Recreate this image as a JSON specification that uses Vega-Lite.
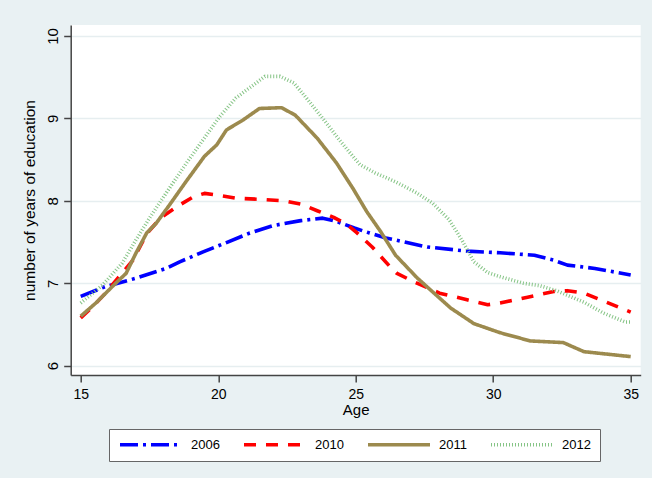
{
  "$schema": "https://vega.github.io/schema/vega-lite/v6.json",
  "autosize": {"type": "none"},
  "padding": {"left": 70.7, "top": 25, "right": 11.3, "bottom": 103},
  "width": 570,
  "height": 350,
  "background": "#E9F1F3",
  "config": {
    "view": {"fill": "white", "stroke": null},
    "font": "Liberation Sans"
  },
  "datasets": {
    "edu": [
      {"year": "2006", "age": 15, "years": 6.84},
      {"year": "2006", "age": 15.9, "years": 6.96},
      {"year": "2006", "age": 17.0, "years": 7.06},
      {"year": "2006", "age": 18.1, "years": 7.18},
      {"year": "2006", "age": 18.6, "years": 7.26},
      {"year": "2006", "age": 19.45, "years": 7.38},
      {"year": "2006", "age": 20.2, "years": 7.48},
      {"year": "2006", "age": 21.15, "years": 7.61},
      {"year": "2006", "age": 22.0, "years": 7.70},
      {"year": "2006", "age": 23.0, "years": 7.76},
      {"year": "2006", "age": 23.8, "years": 7.79},
      {"year": "2006", "age": 24.3, "years": 7.75},
      {"year": "2006", "age": 24.95, "years": 7.67},
      {"year": "2006", "age": 25.5, "years": 7.61},
      {"year": "2006", "age": 26.1, "years": 7.55},
      {"year": "2006", "age": 27.6, "years": 7.44},
      {"year": "2006", "age": 29.05, "years": 7.39},
      {"year": "2006", "age": 30.25, "years": 7.37},
      {"year": "2006", "age": 31.5, "years": 7.34},
      {"year": "2006", "age": 32.2, "years": 7.28},
      {"year": "2006", "age": 32.7, "years": 7.22},
      {"year": "2006", "age": 33.7, "years": 7.18},
      {"year": "2006", "age": 35, "years": 7.10},
      {"year": "2010", "age": 15, "years": 6.58},
      {"year": "2010", "age": 15.45, "years": 6.72},
      {"year": "2010", "age": 15.9, "years": 6.88},
      {"year": "2010", "age": 16.4, "years": 7.08},
      {"year": "2010", "age": 16.9, "years": 7.28},
      {"year": "2010", "age": 17.4, "years": 7.60},
      {"year": "2010", "age": 17.9, "years": 7.79},
      {"year": "2010", "age": 18.5, "years": 7.93},
      {"year": "2010", "age": 19.1, "years": 8.05},
      {"year": "2010", "age": 19.5, "years": 8.09},
      {"year": "2010", "age": 19.95, "years": 8.07},
      {"year": "2010", "age": 20.7, "years": 8.03},
      {"year": "2010", "age": 21.4, "years": 8.02},
      {"year": "2010", "age": 22.4, "years": 8.00},
      {"year": "2010", "age": 23.0, "years": 7.96},
      {"year": "2010", "age": 23.6, "years": 7.88},
      {"year": "2010", "age": 24.2, "years": 7.80},
      {"year": "2010", "age": 24.7, "years": 7.71},
      {"year": "2010", "age": 25.05, "years": 7.61},
      {"year": "2010", "age": 25.6, "years": 7.44},
      {"year": "2010", "age": 26.25, "years": 7.20},
      {"year": "2010", "age": 26.5, "years": 7.12},
      {"year": "2010", "age": 27.1, "years": 7.02},
      {"year": "2010", "age": 28.05, "years": 6.88},
      {"year": "2010", "age": 29.05, "years": 6.80},
      {"year": "2010", "age": 29.8, "years": 6.74},
      {"year": "2010", "age": 30.25, "years": 6.76},
      {"year": "2010", "age": 31.25, "years": 6.83},
      {"year": "2010", "age": 32.2, "years": 6.90},
      {"year": "2010", "age": 32.7, "years": 6.91},
      {"year": "2010", "age": 33.3, "years": 6.88},
      {"year": "2010", "age": 33.9, "years": 6.80},
      {"year": "2010", "age": 35, "years": 6.65},
      {"year": "2011", "age": 15, "years": 6.60},
      {"year": "2011", "age": 15.55, "years": 6.76},
      {"year": "2011", "age": 16.15, "years": 6.96},
      {"year": "2011", "age": 16.65, "years": 7.12},
      {"year": "2011", "age": 17.0, "years": 7.36},
      {"year": "2011", "age": 17.4, "years": 7.61},
      {"year": "2011", "age": 17.75, "years": 7.73},
      {"year": "2011", "age": 18.25, "years": 7.96},
      {"year": "2011", "age": 18.8, "years": 8.22},
      {"year": "2011", "age": 19.5, "years": 8.54},
      {"year": "2011", "age": 19.95, "years": 8.68},
      {"year": "2011", "age": 20.3, "years": 8.86},
      {"year": "2011", "age": 20.9, "years": 8.98},
      {"year": "2011", "age": 21.5, "years": 9.12},
      {"year": "2011", "age": 22.3, "years": 9.13},
      {"year": "2011", "age": 22.8, "years": 9.04},
      {"year": "2011", "age": 23.6, "years": 8.76},
      {"year": "2011", "age": 24.3, "years": 8.46},
      {"year": "2011", "age": 24.9, "years": 8.15},
      {"year": "2011", "age": 25.4, "years": 7.87},
      {"year": "2011", "age": 25.9, "years": 7.63},
      {"year": "2011", "age": 26.45, "years": 7.34},
      {"year": "2011", "age": 27.25, "years": 7.06},
      {"year": "2011", "age": 27.85, "years": 6.88},
      {"year": "2011", "age": 28.45, "years": 6.70},
      {"year": "2011", "age": 29.3, "years": 6.51},
      {"year": "2011", "age": 30.25, "years": 6.40},
      {"year": "2011", "age": 31.35, "years": 6.30},
      {"year": "2011", "age": 32.55, "years": 6.28},
      {"year": "2011", "age": 33.3, "years": 6.17},
      {"year": "2011", "age": 35, "years": 6.11},
      {"year": "2012", "age": 15, "years": 6.76},
      {"year": "2012", "age": 15.8, "years": 6.98},
      {"year": "2012", "age": 16.5, "years": 7.24},
      {"year": "2012", "age": 17.0, "years": 7.52},
      {"year": "2012", "age": 17.5, "years": 7.79},
      {"year": "2012", "age": 18.2, "years": 8.14},
      {"year": "2012", "age": 18.85, "years": 8.46},
      {"year": "2012", "age": 19.45, "years": 8.74},
      {"year": "2012", "age": 20.05, "years": 9.02},
      {"year": "2012", "age": 20.65, "years": 9.25},
      {"year": "2012", "age": 21.3, "years": 9.41},
      {"year": "2012", "age": 21.7, "years": 9.51},
      {"year": "2012", "age": 22.25, "years": 9.51},
      {"year": "2012", "age": 22.75, "years": 9.43},
      {"year": "2012", "age": 23.2, "years": 9.25},
      {"year": "2012", "age": 23.85, "years": 8.98},
      {"year": "2012", "age": 24.45, "years": 8.72},
      {"year": "2012", "age": 25.15, "years": 8.44},
      {"year": "2012", "age": 25.7, "years": 8.34},
      {"year": "2012", "age": 26.45, "years": 8.23},
      {"year": "2012", "age": 27.2, "years": 8.10},
      {"year": "2012", "age": 27.8, "years": 7.97},
      {"year": "2012", "age": 28.4, "years": 7.77},
      {"year": "2012", "age": 28.85, "years": 7.53},
      {"year": "2012", "age": 29.3, "years": 7.26},
      {"year": "2012", "age": 29.8, "years": 7.13},
      {"year": "2012", "age": 30.25, "years": 7.08},
      {"year": "2012", "age": 31.1, "years": 7.00},
      {"year": "2012", "age": 31.7, "years": 6.97},
      {"year": "2012", "age": 32.3, "years": 6.91},
      {"year": "2012", "age": 33.3, "years": 6.77},
      {"year": "2012", "age": 34.0, "years": 6.64},
      {"year": "2012", "age": 34.8, "years": 6.53},
      {"year": "2012", "age": 35, "years": 6.53}
    ]
  },
  "data": {"name": "edu"},
  "mark": {"type": "line", "strokeCap": "butt", "strokeJoin": "round", "strokeWidth": 3.6},
  "encoding": {
    "x": {
      "field": "age", "type": "quantitative",
      "scale": {"domain": [14.636, 35.364], "nice": false, "zero": false},
      "axis": {
        "title": "Age", "values": [15, 20, 25, 30, 35], "grid": false,
        "tickSize": 7, "tickColor": "#444", "tickWidth": 1.5,
        "domainColor": "#444", "domainWidth": 1.5,
        "labelFontSize": 14, "labelColor": "#000", "labelPadding": 5,
        "labelFont": "Liberation Sans",
        "titleFont": "Liberation Sans", "titleFontSize": 15, "titleFontWeight": "normal",
        "titleColor": "#000", "titlePadding": 1
      }
    },
    "y": {
      "field": "years", "type": "quantitative",
      "scale": {"domain": [5.887, 10.133], "nice": false, "zero": false},
      "axis": {
        "title": "number of years of education", "values": [6, 7, 8, 9, 10],
        "grid": true, "gridColor": "#E6EEF0", "gridWidth": 1.5,
        "tickSize": 7, "tickColor": "#444", "tickWidth": 1.5,
        "domainColor": "#444", "domainWidth": 1.5,
        "labelAngle": -90, "labelAlign": "center", "labelBaseline": "alphabetic",
        "labelFontSize": 15, "labelColor": "#000", "labelPadding": 6,
        "labelFont": "Liberation Sans",
        "titleFont": "Liberation Sans", "titleFontSize": 15.5, "titleFontWeight": "normal",
        "titleColor": "#000", "titlePadding": 8
      }
    },
    "color": {
      "field": "year", "type": "ordinal",
      "scale": {"domain": ["2006", "2010", "2011", "2012"], "range": ["#0000FF", "#FF0000", "#9C8A4E", "#86C486"]},
      "legend": {
        "title": null, "orient": "none", "legendX": 38.3, "legendY": 404,
        "direction": "horizontal", "columns": 4,
        "symbolType": "stroke", "symbolSize": 3844, "clipHeight": 13,
        "symbolStrokeWidth": 3.6,
        "labelFontSize": 13, "labelFont": "Liberation Sans", "labelColor": "#000",
        "labelOffset": 7, "columnPadding": 22, "padding": 9,
        "fillColor": "white", "strokeColor": "#666"
      }
    },
    "strokeDash": {
      "field": "year", "type": "ordinal",
      "scale": {"domain": ["2006", "2010", "2011", "2012"], "range": [[18, 5, 3, 5], [12, 10], [1, 0], [1, 2]]},
      "legend": null
    }
  }
}
